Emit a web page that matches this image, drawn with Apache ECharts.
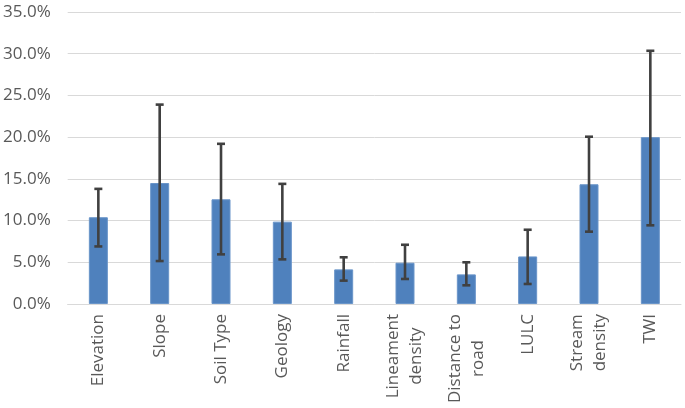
<!DOCTYPE html>
<html>
<head>
<meta charset="utf-8">
<script src="https://cdn.jsdelivr.net/npm/echarts@6/dist/echarts.min.js"></script>
<style>html,body{margin:0;padding:0;background:#fff;}#c{width:685px;height:408px;}</style>
</head>
<body>
<div id="c"></div>
<script>
var categories = ['Elevation', 'Slope', 'Soil Type', 'Geology', 'Rainfall', 'Lineament\ndensity', 'Distance to\nroad', 'LULC', 'Stream\ndensity', 'TWI'];
var meanValues = [10.4, 14.5, 12.55, 9.87, 4.15, 4.95, 3.55, 5.7, 14.35, 20.0];
var errLow = [6.9, 5.15, 5.95, 5.35, 2.8, 3.0, 2.24, 2.4, 8.67, 9.43];
var errHigh = [13.8, 23.9, 19.2, 14.4, 5.6, 7.1, 5.0, 8.9, 20.05, 30.35];
var yTicks = [0, 5, 10, 15, 20, 25, 30, 35];

var FONT = 'Open Sans';
var FS = 17;
var chart = echarts.init(document.getElementById('c'), null, {renderer: 'canvas'});
var errData = categories.map(function (c, i) { return [i, errLow[i], errHigh[i]]; });

chart.setOption({
  animation: false,
  grid: {left: 67, right: 4, top: 12, bottom: 104, containLabel: false},
  xAxis: {
    type: 'category',
    data: categories,
    axisTick: {show: false},
    axisLine: {lineStyle: {color: '#d9d9d9', width: 1}},
    axisLabel: {
      interval: 0,
      rotate: 90,
      margin: 10,
      color: '#595959',
      fontFamily: FONT,
      fontSize: FS,
      formatter: function (v) {
        return v.split('\n').map(function (s) { return '{c|' + s + '}'; }).join('\n');
      },
      rich: {c: {align: 'center', color: '#595959', fontFamily: FONT, fontSize: FS, lineHeight: 23}}
    }
  },
  yAxis: {
    type: 'value',
    min: yTicks[0],
    max: yTicks[yTicks.length - 1],
    interval: 5,
    axisLine: {show: false},
    axisTick: {show: false},
    splitLine: {lineStyle: {color: '#d9d9d9', width: 1}},
    axisLabel: {
      margin: 17,
      color: '#595959',
      fontFamily: FONT,
      fontSize: FS,
      formatter: function (v) { return v.toFixed(1) + '%'; }
    }
  },
  series: [
    {
      type: 'bar',
      data: meanValues,
      barWidth: 19,
      itemStyle: {color: '#4f81bd', borderColor: '#6a95c9', borderWidth: 1}
    },
    {
      type: 'custom',
      data: errData,
      encode: {x: 0, y: [1, 2]},
      z: 10,
      renderItem: function (params, api) {
        var i = api.value(0);
        var lo = api.coord([i, api.value(1)]);
        var hi = api.coord([i, api.value(2)]);
        var hw = 4;
        var st = {stroke: '#404040', lineWidth: 2.6};
        return {
          type: 'group',
          children: [
            {type: 'line', shape: {x1: hi[0], y1: hi[1], x2: lo[0], y2: lo[1]}, style: st},
            {type: 'line', shape: {x1: hi[0] - hw, y1: hi[1], x2: hi[0] + hw, y2: hi[1]}, style: st},
            {type: 'line', shape: {x1: lo[0] - hw, y1: lo[1], x2: lo[0] + hw, y2: lo[1]}, style: st}
          ]
        };
      }
    }
  ]
});
</script>
</body>
</html>
